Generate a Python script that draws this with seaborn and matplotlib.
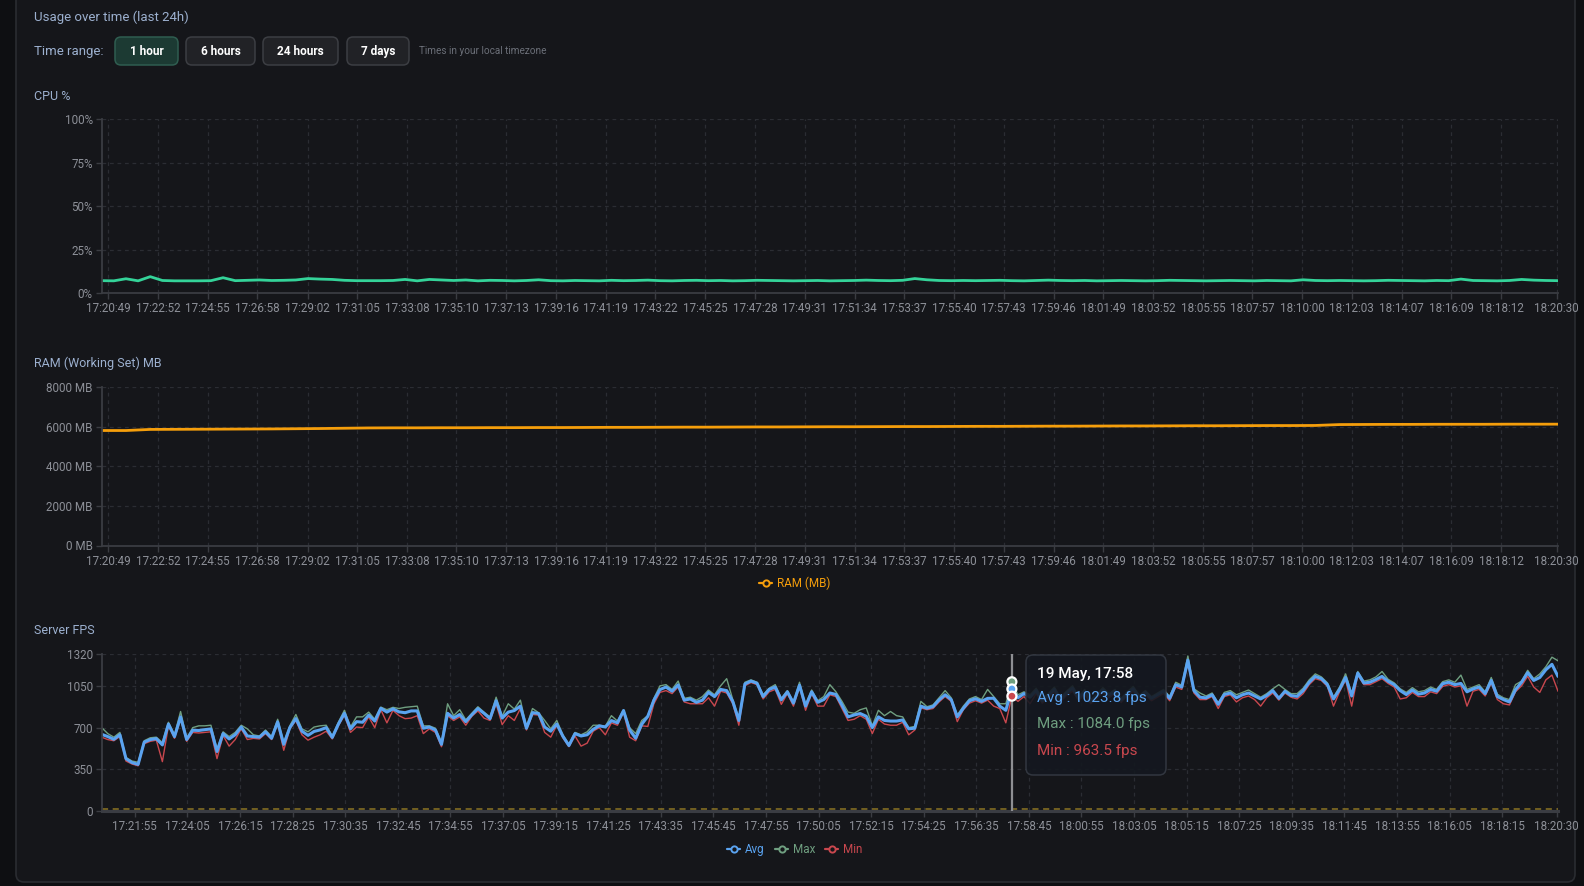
import matplotlib
matplotlib.use("Agg")
import matplotlib.pyplot as plt
import seaborn as sns
import numpy as np
import pandas as pd
from matplotlib.patches import FancyBboxPatch
from matplotlib.lines import Line2D

# ---------------- data ----------------
day = "2024-05-19 "
start_time = "17:20:33"
end_time = "18:20:33"

cpu_tick_labels = ['17:20:49', '17:22:52', '17:24:55', '17:26:58', '17:29:02', '17:31:05', '17:33:08',
                   '17:35:10', '17:37:13', '17:39:16', '17:41:19', '17:43:22', '17:45:25', '17:47:28',
                   '17:49:31', '17:51:34', '17:53:37', '17:55:40', '17:57:43', '17:59:46', '18:01:49',
                   '18:03:52', '18:05:55', '18:07:57', '18:10:00', '18:12:03', '18:14:07', '18:16:09',
                   '18:18:12', '18:20:30']
fps_tick_labels = ['17:21:55', '17:24:05', '17:26:15', '17:28:25', '17:30:35', '17:32:45', '17:34:55',
                   '17:37:05', '17:39:15', '17:41:25', '17:43:35', '17:45:45', '17:47:55', '17:50:05',
                   '17:52:15', '17:54:25', '17:56:35', '17:58:45', '18:00:55', '18:03:05', '18:05:15',
                   '18:07:25', '18:09:35', '18:11:45', '18:13:55', '18:16:05', '18:18:15', '18:20:30']

cpu_ticks = [0, 25, 50, 75, 100]
cpu_tick_text = ['0%', '25%', '50%', '75%', '100%']
ram_ticks = [0, 2000, 4000, 6000, 8000]
ram_tick_text = ['0 MB', '2000 MB', '4000 MB', '6000 MB', '8000 MB']
fps_ticks = [0, 350, 700, 1050, 1320]

# CPU % sampled every 30 s
cpu_pct = [
    7.1, 7.0, 8.2, 7.0, 9.4, 7.2, 7.0, 7.0, 7.0, 7.1, 8.8, 7.1,
    7.3, 7.5, 7.2, 7.3, 7.5, 8.3, 8.0, 7.8, 7.3, 7.1, 7.1, 7.1,
    7.2, 7.8, 7.0, 7.8, 7.5, 7.2, 7.5, 7.0, 7.3, 7.2, 7.0, 7.2,
    7.6, 7.1, 7.0, 7.2, 7.1, 7.0, 7.3, 7.1, 7.2, 7.4, 7.1, 7.0,
    7.2, 7.3, 7.1, 7.2, 7.0, 7.1, 7.3, 7.2, 7.1, 7.0, 7.1, 7.2,
    7.0, 7.1, 7.2, 7.4, 7.2, 7.1, 7.3, 8.3, 7.6, 7.2, 7.1, 7.2,
    7.1, 7.2, 7.3, 7.1, 7.0, 7.2, 7.4, 7.2, 7.1, 7.2, 7.0, 7.1,
    7.2, 7.1, 7.0, 7.1, 7.3, 7.2, 7.1, 7.0, 7.1, 7.2, 7.1, 7.0,
    7.2, 7.1, 7.0, 7.6, 7.2, 7.1, 7.2, 7.1, 7.0, 7.1, 7.3, 7.2,
    7.1, 7.0, 7.2, 7.1, 8.0, 7.2, 7.1, 7.0, 7.2, 7.8, 7.4, 7.2,
    7.1]

# RAM MB sampled every 60 s
ram_mb = [
    5800, 5800, 5855, 5860, 5865, 5870, 5875, 5880, 5890, 5900,
    5915, 5930, 5935, 5935, 5940, 5940, 5945, 5945, 5950, 5950,
    5955, 5960, 5960, 5965, 5970, 5970, 5975, 5980, 5980, 5985,
    5990, 5990, 5995, 6000, 6000, 6005, 6010, 6010, 6015, 6020,
    6020, 6025, 6030, 6030, 6035, 6040, 6040, 6045, 6050, 6050,
    6055, 6100, 6105, 6110, 6110, 6115, 6115, 6115, 6120, 6120,
    6120]

# Server FPS sampled every 15 s
fps_avg = [
    644, 625, 602, 640, 440, 407, 392, 578, 600, 608, 555, 730,
    625, 790, 600, 678, 676, 683, 689, 500, 650, 605, 640, 705,
    630, 625, 620, 665, 611, 748, 560, 700, 776, 670, 635, 668,
    681, 700, 618, 728, 820, 690, 750, 745, 805, 755, 862, 830,
    857, 832, 825, 840, 840, 695, 705, 680, 560, 820, 780, 810,
    750, 808, 860, 820, 775, 925, 780, 830, 843, 880, 695, 826,
    818, 705, 670, 730, 628, 550, 650, 630, 640, 686, 715, 705,
    759, 740, 843, 680, 611, 728, 795, 930, 1019, 1040, 1005, 1058,
    930, 940, 912, 930, 995, 960, 1020, 1010, 920, 760, 1066, 1090,
    1072, 960, 1020, 1040, 932, 1000, 905, 1055, 880, 1000, 912, 935,
    990, 978, 888, 790, 806, 818, 795, 700, 790, 760, 755, 755,
    764, 690, 695, 880, 862, 876, 932, 975, 935, 790, 862, 925,
    942, 920, 945, 946, 880, 845, 1023.8, 950, 985, 955, 1010, 925,
    970, 1020, 935, 990, 1030, 945, 1000, 920, 965, 1015, 970, 1005,
    930, 985, 1025, 955, 995, 945, 975, 1005, 945, 1060, 1040, 1265,
    1010, 955, 949, 975, 895, 977, 990, 950, 975, 990, 965, 940,
    969, 1010, 945, 1005, 969, 962, 1010, 1080, 1129, 1110, 1060, 940,
    1020, 1120, 965, 1157, 1074, 1080, 1103, 1129, 1088, 1060, 1010, 977,
    1015, 980, 990, 1020, 1005, 1068, 1080, 1060, 1070, 1000, 1024, 1040,
    985, 1095, 960, 935, 915, 1018, 1080, 1160, 1095, 1120, 1185, 1230,
    1129]
fps_max = [
    700, 650, 620, 660, 450, 420, 410, 590, 615, 620, 575, 745,
    640, 835, 610, 700, 715, 715, 720, 520, 665, 625, 660, 720,
    690, 640, 630, 680, 625, 770, 575, 715, 810, 690, 665, 705,
    715, 720, 630, 745, 845, 705, 790, 790, 830, 770, 872, 850,
    870, 860, 870, 875, 880, 715, 715, 695, 575, 900, 800, 850,
    765, 820, 875, 830, 790, 955, 795, 900, 855, 930, 710, 860,
    825, 760, 690, 760, 640, 560, 660, 640, 665, 720, 720, 712,
    800, 755, 850, 700, 650, 760, 800, 945, 1050, 1060, 1020, 1090,
    945, 955, 930, 960, 1015, 975, 1050, 1110, 935, 775, 1080, 1100,
    1080, 975, 1030, 1060, 945, 1010, 915, 1080, 890, 1015, 925, 960,
    1060, 1000, 920, 830, 820, 850, 865, 715, 845, 800, 835, 800,
    790, 700, 710, 920, 875, 890, 950, 1010, 950, 805, 880, 940,
    960, 935, 1020, 960, 900, 900, 1084.0, 975, 1000, 975, 1030, 945,
    985, 1040, 950, 1005, 1050, 960, 1020, 935, 980, 1035, 985, 1020,
    945, 1000, 1045, 970, 1010, 960, 990, 1020, 960, 1080, 1055, 1300,
    1025, 990, 965, 990, 905, 995, 1010, 975, 995, 1015, 985, 955,
    985, 1025, 1060, 1020, 985, 985, 1030, 1100, 1150, 1125, 1075, 955,
    1040, 1150, 985, 1170, 1090, 1100, 1125, 1170, 1105, 1075, 1025, 995,
    1035, 1000, 1010, 1040, 1020, 1085, 1100, 1080, 1140, 1020, 1040, 1060,
    1000, 1120, 980, 950, 935, 1060, 1090, 1180, 1110, 1150, 1210, 1290,
    1260]
fps_min = [
    620, 600, 590, 625, 420, 395, 380, 565, 585, 595, 415, 715,
    610, 770, 585, 660, 655, 660, 665, 440, 635, 545, 600, 690,
    600, 610, 605, 650, 600, 735, 510, 690, 760, 640, 595, 620,
    640, 670, 605, 715, 805, 660, 705, 700, 790, 700, 850, 740,
    845, 800, 775, 780, 800, 650, 690, 660, 540, 800, 760, 790,
    720, 795, 840, 780, 760, 900, 725, 800, 760, 860, 680, 810,
    805, 660, 620, 720, 615, 540, 630, 545, 570, 670, 700, 640,
    740, 720, 830, 620, 590, 715, 710, 900, 995, 1010, 985, 1040,
    915, 900, 900, 900, 950, 880, 1005, 990, 900, 720, 1050, 1078,
    1060, 940, 1000, 1020, 895, 985, 880, 1040, 845, 985, 880, 880,
    975, 960, 860, 760, 770, 800, 770, 650, 770, 730, 720, 720,
    745, 640, 680, 865, 850, 860, 915, 960, 920, 750, 850, 905,
    925, 905, 930, 880, 860, 740, 963.5, 920, 960, 900, 985, 905,
    950, 1000, 915, 970, 1005, 925, 980, 900, 945, 995, 950, 985,
    910, 965, 1005, 935, 975, 925, 955, 985, 925, 1040, 1020, 1240,
    990, 935, 935, 960, 860, 960, 975, 915, 950, 965, 935, 880,
    950, 990, 930, 990, 955, 940, 985, 1060, 1110, 1095, 1045, 880,
    1000, 1100, 880, 1140, 1060, 1060, 1085, 1110, 1070, 1040, 940, 950,
    995, 960, 960, 1000, 985, 1045, 1060, 1040, 1050, 880, 1005, 1020,
    965, 1075, 935, 900, 890, 1000, 1050, 1130, 1040, 995, 1100, 1140,
    1005]
fps_threshold = 15
hover_time = "17:58:03"
tooltip_title = "19 May, 17:58"
tooltip_avg, tooltip_max, tooltip_min = 1023.8, 1084.0, 963.5

# ---------------- style ----------------
sns.set_theme(style="dark")
plt.rcParams['font.family'] = ['Roboto', 'DejaVu Sans']

W, H = 1584, 886
OUTER = '#0e0f12'
PANEL = '#15161a'
GRID = '#2b2d33'
AXIS = '#3a3c42'
TICK = '#8d9098'
TITLE = '#9cb0cf'
C_CPU = '#34d399'
C_RAM = '#f59e0b'
C_AVG = '#5aa3f0'
C_MAX = '#6f9f80'
C_MIN = '#c9474e'

fig = plt.figure(figsize=(W / 100, H / 100), dpi=100, facecolor=OUTER)


def px_rect(l, t, r, b):
    return [l / W, 1 - b / H, (r - l) / W, (b - t) / H]


bg = fig.add_axes([0, 0, 1, 1])
bg.set_xlim(0, W)
bg.set_ylim(H, 0)
bg.axis('off')
bg.set_zorder(-5)
bg.add_patch(FancyBboxPatch((16, -20), 1559, 902, boxstyle='round,pad=0,rounding_size=8',
                            fc=PANEL, ec='#2a2c31', lw=1.2))

# header
bg.text(34, 17, 'Usage over time (last 24h)', color=TITLE, fontsize=9.5, va='center', ha='left')
bg.text(34, 51, 'Time range:', color=TITLE, fontsize=9.5, va='center', ha='left')
buttons = [('1 hour', 115, 178, True), ('6 hours', 186, 255, False),
           ('24 hours', 263, 338, False), ('7 days', 347, 409, False)]
for lab, l, r, sel in buttons:
    bg.add_patch(FancyBboxPatch((l, 37), r - l, 28, boxstyle='round,pad=0,rounding_size=6',
                                fc='#1c3a33' if sel else '#212226',
                                ec='#2f5d50' if sel else '#3c3e43', lw=1.1))
    bg.text((l + r) / 2, 51, lab, color='white', fontsize=8.5, fontweight='bold',
            va='center', ha='center')
bg.text(419, 51, 'Times in your local timezone', color='#6b6f78', fontsize=7.2, va='center', ha='left')

bg.text(34, 96, 'CPU %', color=TITLE, fontsize=9, va='center', ha='left')
bg.text(34, 363, 'RAM (Working Set) MB', color=TITLE, fontsize=9, va='center', ha='left')
bg.text(34, 630, 'Server FPS', color=TITLE, fontsize=9, va='center', ha='left')


def ts(s):
    return pd.Timestamp(day + s)


t_start, t_end = ts(start_time), ts(end_time)


def style_axes(ax, yticks, ytext, ymax, xlabels):
    ax.set_facecolor('none')
    ax.set_xlim(t_start, t_end)
    ax.set_ylim(0, ymax)
    ax.set_yticks(yticks)
    ax.set_yticklabels(ytext)
    ax.set_xticks([ts(s) for s in xlabels])
    ax.set_xticklabels(xlabels)
    ax.set_xlabel('')
    ax.set_ylabel('')
    ax.grid(True, color=GRID, linestyle=(0, (3, 3)), linewidth=0.9)
    ax.set_axisbelow(True)
    for s in ['top', 'right']:
        ax.spines[s].set_visible(False)
    for s in ['left', 'bottom']:
        ax.spines[s].set_visible(True)
        ax.spines[s].set_color(AXIS)
        ax.spines[s].set_linewidth(1.3)
    ax.tick_params(axis='both', colors=AXIS, labelcolor=TICK, labelsize=8.4,
                   length=4, width=1, pad=2.5, bottom=True, left=True)


# CPU
ax1 = fig.add_axes(px_rect(101.7, 119.2, 1558, 293))
cpu_df = pd.DataFrame({'time': pd.date_range(t_start, periods=len(cpu_pct), freq='30s'), 'cpu': cpu_pct})
sns.lineplot(data=cpu_df, x='time', y='cpu', ax=ax1, color=C_CPU, linewidth=2, estimator=None)
style_axes(ax1, cpu_ticks, cpu_tick_text, 100, cpu_tick_labels)

# RAM
ax2 = fig.add_axes(px_rect(101.7, 386.9, 1558, 545.5))
ram_df = pd.DataFrame({'time': pd.date_range(t_start, periods=len(ram_mb), freq='60s'), 'ram': ram_mb})
sns.lineplot(data=ram_df, x='time', y='ram', ax=ax2, color=C_RAM, linewidth=2, estimator=None)
style_axes(ax2, ram_ticks, ram_tick_text, 8000, cpu_tick_labels)
ax2.legend(handles=[Line2D([0], [0], color=C_RAM, lw=1.6, marker='o', ms=4.5, mfc=PANEL, mec=C_RAM, mew=1.4)],
           labels=['RAM (MB)'], loc='center', bbox_to_anchor=(0.476, -0.236), frameon=False,
           labelcolor='linecolor', fontsize=8.4, handlelength=1.1, handletextpad=0.4)

# FPS
ax3 = fig.add_axes(px_rect(101.7, 653.6, 1558, 811.2))
fps_df = pd.DataFrame({'time': pd.date_range(t_start, periods=len(fps_avg), freq='15s'),
                       'Avg': fps_avg, 'Max': fps_max, 'Min': fps_min})
sns.lineplot(data=fps_df, x='time', y='Max', ax=ax3, color=C_MAX, linewidth=1.0, estimator=None)
sns.lineplot(data=fps_df, x='time', y='Min', ax=ax3, color=C_MIN, linewidth=1.0, estimator=None)
sns.lineplot(data=fps_df, x='time', y='Avg', ax=ax3, color=C_AVG, linewidth=2.2, estimator=None)
style_axes(ax3, fps_ticks, [str(v) for v in fps_ticks], 1320, fps_tick_labels)
ax3.spines['bottom'].set_linewidth(2.2)
ax3.axhline(fps_threshold, color='#8c7424', linestyle=(0, (4, 3)), linewidth=1.1, zorder=1.5)
ht = ts(hover_time)
ax3.axvline(ht, color='#8e8f93', linewidth=1.6, zorder=4)
ax3.scatter([ht] * 3, [tooltip_max, tooltip_avg, tooltip_min], s=42,
            c=[C_MAX, C_AVG, C_MIN], edgecolors='white', linewidths=1.6, zorder=6)
ax3.legend(handles=[Line2D([0], [0], color=c, lw=1.6, marker='o', ms=4.5, mfc=PANEL, mec=c, mew=1.4)
                    for c in (C_AVG, C_MAX, C_MIN)],
           labels=['Avg', 'Max', 'Min'], loc='center', bbox_to_anchor=(0.476, -0.246), frameon=False,
           labelcolor='linecolor', fontsize=8.4, handlelength=1.1, handletextpad=0.4, ncol=3,
           columnspacing=0.9)

# tooltip overlay
top = fig.add_axes([0, 0, 1, 1])
top.set_xlim(0, W)
top.set_ylim(H, 0)
top.axis('off')
top.set_zorder(20)
top.add_patch(FancyBboxPatch((1026, 655), 140, 120, boxstyle='round,pad=0,rounding_size=7',
                             fc='#141820', ec='#353a44', lw=1.1, alpha=0.9))
top.text(1037, 674, tooltip_title, color='white', fontsize=11, fontweight='medium', va='center', ha='left')
top.text(1037, 698, f'Avg : {tooltip_avg:.1f} fps', color=C_AVG, fontsize=11, va='center', ha='left')
top.text(1037, 724, f'Max : {tooltip_max:.1f} fps', color=C_MAX, fontsize=11, va='center', ha='left')
top.text(1037, 751, f'Min : {tooltip_min:.1f} fps', color=C_MIN, fontsize=11, va='center', ha='left')

fig.savefig('out.png', dpi=100, facecolor=OUTER)
